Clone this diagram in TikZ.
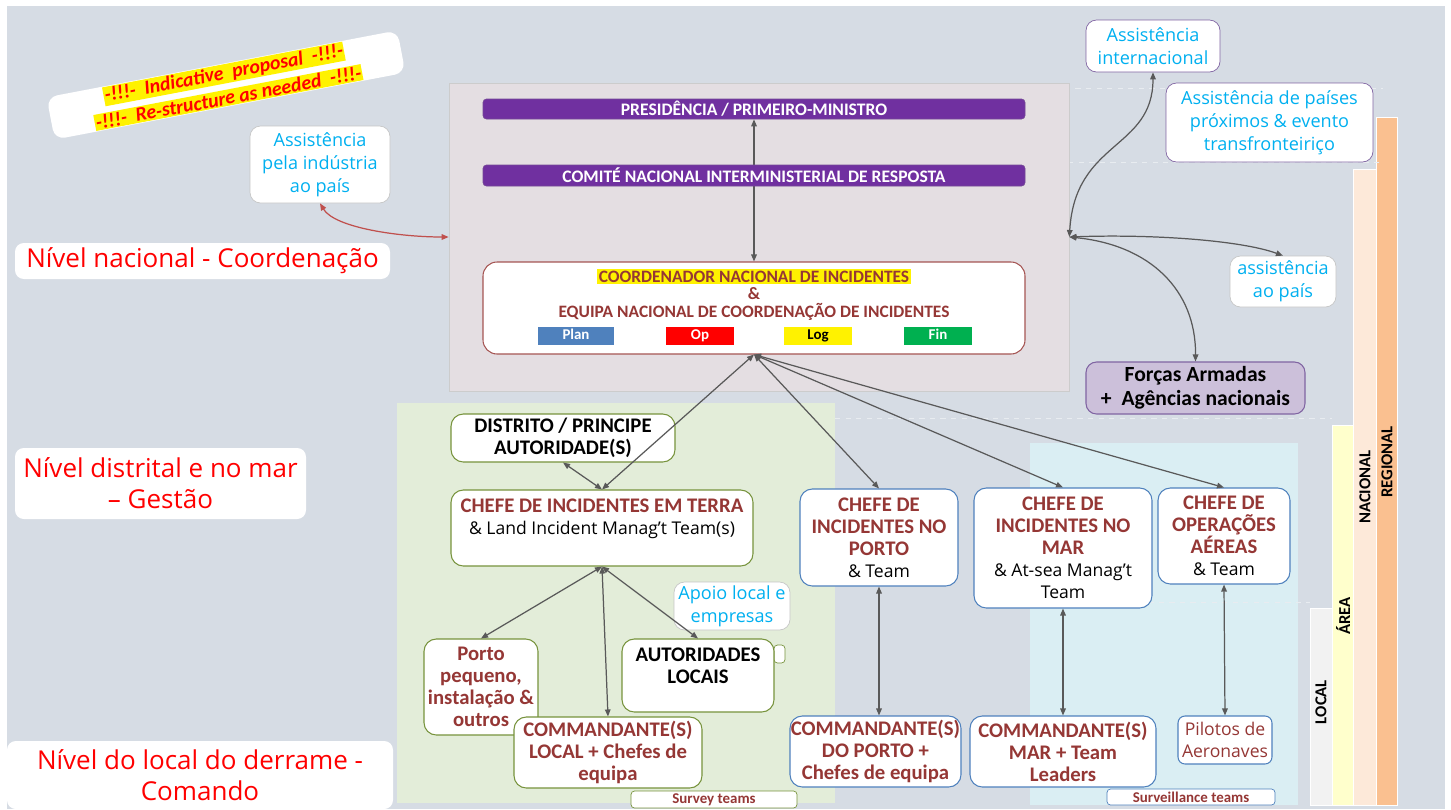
\documentclass[tikz,border=0pt]{standalone}
\usepackage{fontspec}
\setmainfont{Open Sans}
\newfontfamily\boxfont{Carlito}
\usepackage{xcolor}
\usetikzlibrary{arrows.meta}

\definecolor{pagebg}{HTML}{D6DCE4}
\definecolor{natbg}{HTML}{E4DEE2}
\definecolor{purpleB}{HTML}{7030A0}
\definecolor{darkred}{HTML}{953735}
\definecolor{aidcyan}{HTML}{00B0F0}
\definecolor{landline}{HTML}{77933C}
\definecolor{landbg}{HTML}{E3EDD9}
\definecolor{sealine}{HTML}{4F81BD}
\definecolor{seabg}{HTML}{DAEEF3}
\definecolor{forcesbg}{HTML}{CCC0DA}
\definecolor{forcesline}{HTML}{8064A2}
\definecolor{arrgray}{HTML}{595959}
\definecolor{redarrow}{HTML}{C0504D}
\definecolor{planblue}{HTML}{4F81BD}
\definecolor{fingreen}{HTML}{00B050}
\definecolor{regorange}{HTML}{FAC090}
\definecolor{natpeach}{HTML}{FDE9D9}
\definecolor{areayellow}{HTML}{FFFFCC}
\definecolor{localgray}{HTML}{F2F2F2}

\newcommand\teamtxt[1]{{\normalfont\fontsize{10}{12.5}\selectfont\color{black}#1}}

\begin{document}
\begin{tikzpicture}[
  x=0.02cm, y=-0.02cm,
  sz/.style 2 args={minimum width=#1*0.02cm, minimum height=#2*0.02cm},
  lvl/.style={fill=white, rounded corners=5pt, text=red, align=center, inner sep=0pt, font=\fontsize{14.8}{17.5}\selectfont},
  aid/.style={fill=white, draw=#1, rounded corners=6pt, text=aidcyan, align=center, inner sep=0pt, font=\fontsize{10.3}{13}\selectfont},
  aid/.default=gray!45,
  bar/.style={fill=purpleB, draw=purpleB!70!gray, rounded corners=2pt, text=white, inner sep=0pt, font=\boxfont\bfseries\fontsize{10}{11}\selectfont},
  sect/.style={fill=#1, inner sep=0pt, text height=6.2pt, text depth=1.8pt, text=white, font=\boxfont\bfseries\fontsize{8.5}{9}\selectfont},
  landbox/.style={fill=white, draw=landline, line width=0.6pt, rounded corners=7pt, align=center, inner sep=0pt, text=darkred, font=\boxfont\bfseries\fontsize{11.8}{12.5}\selectfont},
  seabox/.style={landbox, draw=sealine},
  teams/.style={fill=white, draw=#1, rounded corners=2pt, inner sep=0pt, text=darkred, font=\boxfont\bfseries\fontsize{8.5}{9}\selectfont},
  tier/.style={rotate=90, inner sep=0pt, font=\boxfont\bfseries\fontsize{9.5}{10}\selectfont},
  toplabel/.style={anchor=north, inner sep=0pt, align=center, text=darkred, font=\boxfont\bfseries\fontsize{11.8}{12.5}\selectfont},
  arrow/.style={{Triangle[length=4pt,width=3.2pt]}-{Triangle[length=4pt,width=3.2pt]}, draw=arrgray, line width=0.7pt},
  faint/.style={draw=white!45!pagebg, dashed, line width=0.5pt}
]
\fill[white] (0,0) rectangle (1451,809);
\fill[pagebg] (7,6) rectangle (1445,809);
\useasboundingbox (0,0) rectangle (1451,809);

\fill[landbg] (397,403) rectangle (835,803);
\fill[seabg] (1030,443) rectangle (1298,805);

\filldraw[regorange, draw=white] (1376,117) rectangle (1397,805);
\filldraw[natpeach, draw=white] (1353,169) rectangle (1376,805);
\filldraw[areayellow, draw=white] (1332,425) rectangle (1353,805);
\filldraw[localgray, draw=white] (1310,608) rectangle (1332,805);
\node[tier] (regional) at (1387,462) {REGIONAL};
\node[tier] (nacional) at (1365,487) {NACIONAL};
\node[tier] (area) at (1343,616) {ÁREA};
\node[tier] (local) at (1321,702) {LOCAL};

\draw[faint] (580,88) -- (1383,88);
\draw[faint] (1026,162) -- (1383,162);
\draw[faint] (835,418) -- (1332,418);
\draw[faint] (1085,602) -- (1310,602);

\node[sz={620}{308}, fill=natbg, draw=gray!40, inner sep=0pt] (nat) at (759,237) {};
\node[bar, sz={542}{20}] (pres) at (754,109) {PRESIDÊNCIA / PRIMEIRO-MINISTRO};
\node[sz={542}{92}, fill=white, draw=darkred!85, line width=0.6pt, rounded corners=8pt, inner sep=0pt,
  label={[toplabel, yshift=-4pt, font=\boxfont\bfseries\fontsize{9.9}{10.2}\selectfont]north:{{\fboxsep=1pt\colorbox{yellow}{COORDENADOR NACIONAL DE INCIDENTES}}\\\&\\EQUIPA NACIONAL DE COORDENAÇÃO DE INCIDENTES}}] (coord) at (754,308) {};
\node[sect=planblue, sz={76}{18}] (plan) at (576,336) {Plan};
\node[sect=red, sz={68}{18}] (op) at (700,336) {Op};
\node[sect=yellow, text=black, sz={68}{18}] (log) at (818,336) {Log};
\node[sect=fingreen, sz={68}{18}] (fin) at (938,336) {Fin};
\draw[arrow] (pres) -- (coord);
\node[bar, sz={542}{21}] (comite) at (754,175.5) {COMITÉ NACIONAL INTERMINISTERIAL DE RESPOSTA};

\node[lvl, sz={375}{36}] (lvlnat) at (202.5,261) {Nível nacional - Coordenação};
\node[lvl, sz={291}{71}] (lvldist) at (160.5,483.5) {Nível distrital e no mar\\– Gestão};
\node[lvl, sz={386}{68}] (lvlloc) at (200,775) {Nível do local do derrame -\\Comando};

\node[fill=white, rounded corners=6pt, rotate=10.8, sz={357}{43}, inner sep=0pt,
  align=center, text=red, font=\boxfont\bfseries\itshape\fontsize{11.3}{13}\selectfont] (banner) at (226,85)
  {{\fboxsep=0.6pt\colorbox{yellow}{-!!!-\ \ Indicative\ \ proposal\ \ -!!!-}}\\[1.5pt]{\fboxsep=0.6pt\colorbox{yellow}{-!!!-\ \ Re-structure as needed\ \ -!!!-}}};

\node[aid, sz={140}{77}] (industria) at (320,164.5) {Assistência\\pela indústria\\ao país};
\node[aid=forcesline, sz={134}{52}] (intl) at (1153,46) {Assistência\\internacional};
\node[aid=forcesline, sz={207}{79}] (vizinhos) at (1269.5,122.5) {Assistência de países\\próximos \& evento\\transfronteiriço};
\node[aid, sz={106}{51}] (apoiopais) at (1283,281.5) {assistência\\ao país};
\node[sz={219}{52}, fill=forcesbg, draw=forcesline, line width=0.6pt, rounded corners=6pt, inner sep=0pt, align=center,
  font=\boxfont\bfseries\fontsize{12.3}{13.5}\selectfont] (forcas) at (1195.5,388) {Forças Armadas\\+\ \ Agências nacionais};

\node[landbox, text=black, sz={224}{48}] (distrito) at (563,438) {DISTRITO / PRINCIPE\\AUTORIDADE(S)};
\node[landbox, sz={302}{76},
  label={[toplabel, yshift=-5pt]north:{CHEFE DE INCIDENTES EM TERRA\\\teamtxt{\& Land Incident Manag’t Team(s)}}}] (terra) at (602,528) {};
\node[aid, sz={116}{48}] (apoiolocal) at (732,606) {Apoio local e\\empresas};
\node[teams=landline, sz={11}{18}] (autloctab) at (779.5,654) {};
\node[landbox, sz={152}{73},
  label={[toplabel, yshift=-5pt, text=black]north:{AUTORIDADES\\LOCAIS}}] (autloc) at (698,675.5) {};
\node[landbox, sz={114}{96}] (portopeq) at (481,687) {Porto\\pequeno,\\instalação \&\\outros};
\node[landbox, sz={188}{71}] (cmdlocal) at (608,752.5) {COMMANDANTE(S)\\LOCAL + Chefes de\\equipa};
\node[teams=landline, sz={166}{17}] (survey) at (714,799.5) {Survey teams};

\node[seabox, sz={158}{97}] (chefeporto) at (879,537.5) {CHEFE DE\\INCIDENTES NO\\PORTO\\\teamtxt{\& Team}};
\node[seabox, sz={178}{120}] (chefemar) at (1063,548) {CHEFE DE\\INCIDENTES NO\\MAR\\\teamtxt{\& At-sea Manag’t}\\\teamtxt{Team}};
\node[seabox, sz={132}{96}] (chefeaereo) at (1224,536) {CHEFE DE\\OPERAÇÕES\\AÉREAS\\\teamtxt{\& Team}};
\node[seabox, sz={171}{71}] (cmdporto) at (875.5,751.5) {COMMANDANTE(S)\\DO PORTO +\\Chefes de equipa};
\node[seabox, sz={186}{71}] (cmdmar) at (1063,751.5) {COMMANDANTE(S)\\MAR + Team\\Leaders};
\node[seabox, rounded corners=4pt, font=\fontsize{10}{12.5}\selectfont, sz={94}{48}] (pilotos) at (1225,740) {Pilotos de\\Aeronaves};
\node[teams=sealine, sz={168}{16}] (surveil) at (1191,797) {Surveillance teams};

\coordinate (hub) at (nat.east |- 0,237);
\coordinate (natwest) at (nat.west |- 0,237);

\draw[arrow] (coord.south) -- (terra.north);
\draw[arrow] (coord.south) -- (chefeporto.north);
\draw[arrow] (coord.south) -- (chefemar.north);
\draw[arrow] (coord.south) -- (chefeaereo.north);
\draw[arrow] (distrito.south) -- (terra.north);
\draw[arrow] (terra.south) -- (portopeq.north);
\draw[arrow] (terra.south) -- (cmdlocal.north);
\draw[arrow] (terra.south) -- (autloc.north);
\draw[arrow] (chefeporto.south) -- (chefeporto.south |- cmdporto.north);
\draw[arrow] (chefemar.south) -- (cmdmar.north);
\draw[arrow] (chefeaereo.south) -- (pilotos.north);

\draw[arrow] (intl.south) .. controls (1153,150) and (1075,140) .. (hub);
\draw[arrow] (hub) .. controls (1150,234) and (1240,240) .. (apoiopais.north);
\draw[arrow] (hub) .. controls (1150,245) and (1196,290) .. (forcas.north);
\draw[arrow, draw=redarrow] (industria.south) .. controls (335,228) and (400,237) .. (natwest);
\end{tikzpicture}
\end{document}
